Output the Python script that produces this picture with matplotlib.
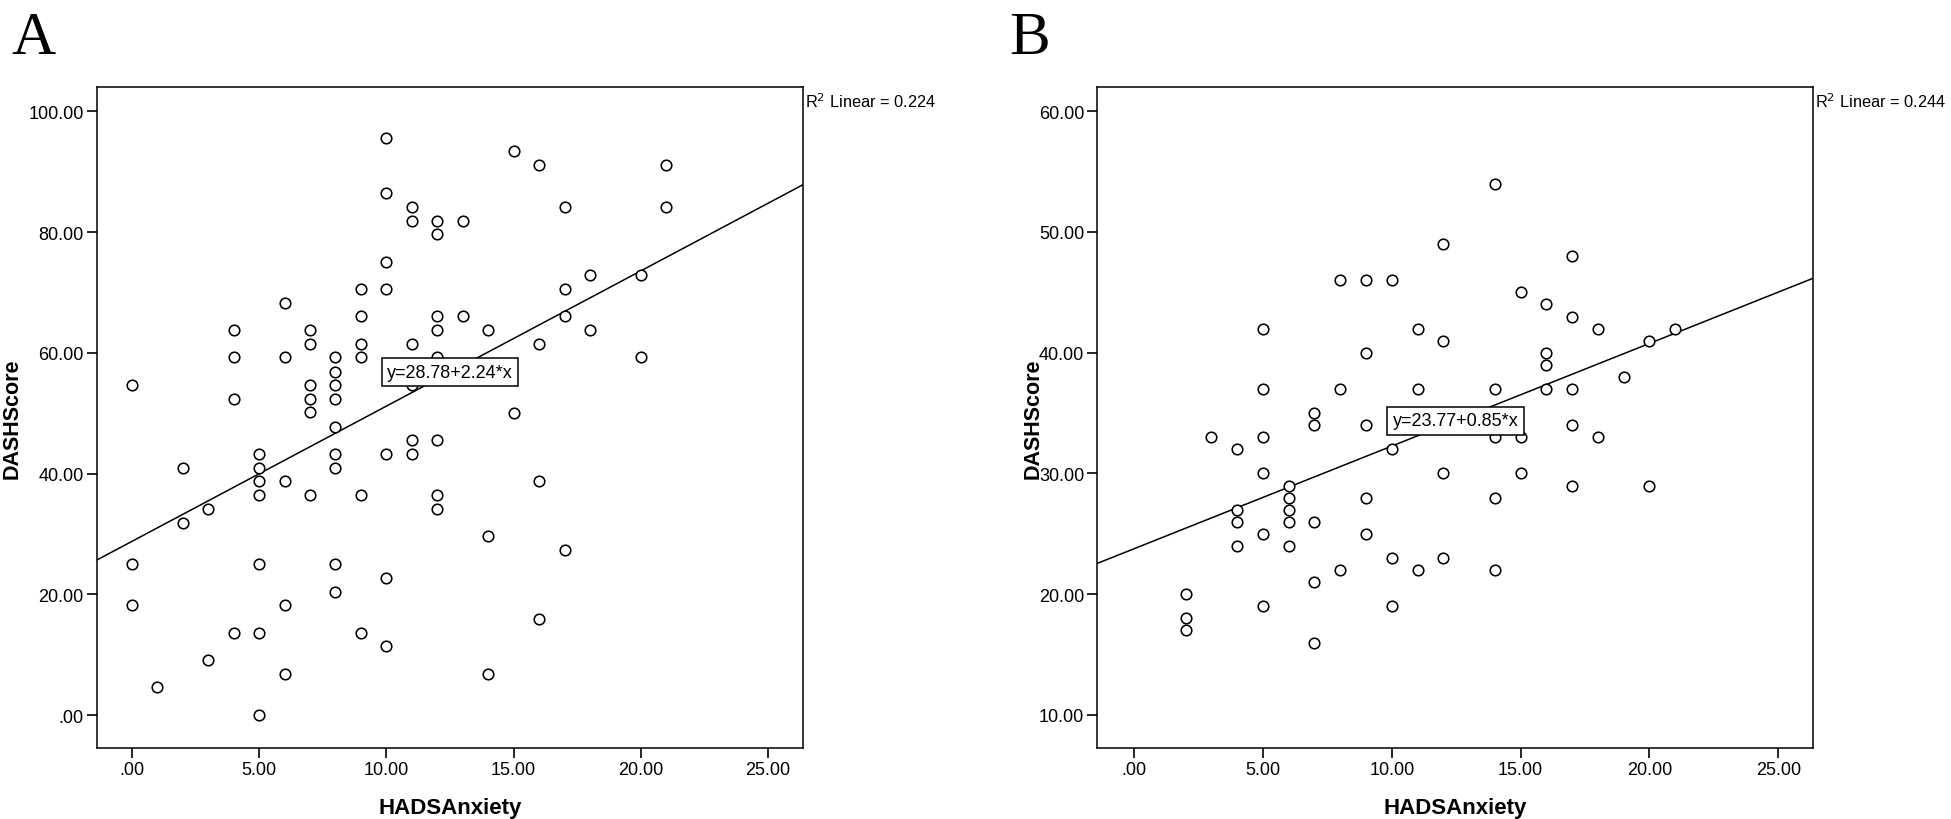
import matplotlib
matplotlib.use("Agg")
import matplotlib.pyplot as plt
from matplotlib.ticker import FixedLocator, FuncFormatter

# ---- Panel A data (HADS Anxiety vs DASH score) ----
a_anxiety = [0, 0, 0, 1, 2, 2, 3, 3,
             4, 4, 4, 4,
             5, 5, 5, 5, 5, 5, 5,
             6, 6, 6, 6, 6,
             7, 7, 7, 7, 7, 7,
             8, 8, 8, 8, 8, 8, 8, 8, 8,
             9, 9, 9, 9, 9, 9,
             10, 10, 10, 10, 10, 10, 10,
             11, 11, 11, 11, 11, 11,
             12, 12, 12, 12, 12, 12, 12, 12,
             13, 13,
             14, 14, 14,
             15, 15,
             16, 16, 16, 16,
             17, 17, 17, 17,
             18, 18,
             20, 20,
             21, 21]
a_dash = [54.7, 25.0, 18.2, 4.6, 41.0, 31.9, 34.2, 9.1,
          63.8, 59.3, 52.4, 13.6,
          43.3, 41.0, 38.8, 36.4, 25.0, 13.6, 0.0,
          68.3, 59.3, 38.8, 18.2, 6.8,
          63.8, 61.5, 54.7, 52.4, 50.2, 36.4,
          59.3, 56.9, 54.7, 52.4, 47.8, 43.3, 41.0, 25.0, 20.4,
          70.6, 66.1, 61.5, 59.3, 36.4, 13.6,
          95.6, 86.5, 75.1, 70.6, 43.3, 22.8, 11.4,
          84.2, 81.9, 61.5, 54.7, 45.5, 43.3,
          81.9, 79.7, 66.1, 63.8, 59.3, 45.5, 36.4, 34.2,
          81.9, 66.1,
          63.8, 29.6, 6.8,
          93.4, 50.1,
          91.1, 61.5, 38.8, 15.9,
          84.2, 70.6, 66.1, 27.3,
          72.9, 63.8,
          72.9, 59.3,
          91.1, 84.2]
a_intercept, a_slope, a_r2 = 28.78, 2.24, 0.224

# ---- Panel B data ----
b_anxiety = [2, 2, 2, 3,
             4, 4, 4, 4,
             5, 5, 5, 5, 5, 5,
             6, 6, 6, 6, 6,
             7, 7, 7, 7, 7,
             8, 8, 8,
             9, 9, 9, 9, 9,
             10, 10, 10, 10,
             11, 11, 11,
             12, 12, 12, 12,
             14, 14, 14, 14, 14,
             15, 15, 15,
             16, 16, 16, 16,
             17, 17, 17, 17, 17,
             18, 18, 19, 20, 20, 21]
b_dash = [20, 18, 17, 33,
          32, 27, 26, 24,
          42, 37, 33, 30, 25, 19,
          29, 28, 27, 26, 24,
          35, 34, 26, 21, 16,
          46, 37, 22,
          46, 40, 34, 28, 25,
          46, 32, 23, 19,
          42, 37, 22,
          49, 41, 30, 23,
          54, 37, 33, 28, 22,
          45, 33, 30,
          44, 40, 39, 37,
          48, 43, 37, 34, 29,
          42, 33, 38, 41, 29, 42]
b_intercept, b_slope, b_r2 = 23.77, 0.85, 0.244

x_ticks = [0, 5, 10, 15, 20, 25]
a_yticks = [0, 20, 40, 60, 80, 100]
b_yticks = [10, 20, 30, 40, 50, 60]

plt.rcParams['font.family'] = ['Liberation Sans', 'DejaVu Sans']


def fmt(v, pos=None):
    s = f"{v:.2f}"
    if s.startswith("0."):
        s = s[1:]
    return s


fig = plt.figure(figsize=(19.51, 8.20), dpi=100)
W, H = 1951, 820


def panel(left_px, right_px, xs, ys, icpt, slope, r2, xlim, ylim, yticks,
          letter, letter_x, ylabel_x):
    top_px, bot_px = 87.5, 749.3
    ax = fig.add_axes([left_px / W, 1 - bot_px / H,
                       (right_px - left_px) / W, (bot_px - top_px) / H])
    ax.set_xlim(*xlim)
    ax.set_ylim(*ylim)
    ax.plot(xs, ys, linestyle='none', marker='o', markersize=7.6,
            markerfacecolor='white', markeredgecolor='black',
            markeredgewidth=1.15, zorder=3)
    lx = list(xlim)
    ax.plot(lx, [icpt + slope * v for v in lx], color='black', lw=1.1,
            zorder=2, clip_on=True)
    xm = (xlim[0] + xlim[1]) / 2
    ax.text(xm, icpt + slope * xm, f"y={icpt:.2f}+{slope:.2f}*x",
            ha='center', va='center', fontsize=13, zorder=5,
            bbox=dict(boxstyle='square,pad=0.3', facecolor='white',
                      edgecolor='black', linewidth=1.1))
    ax.xaxis.set_major_locator(FixedLocator(x_ticks))
    ax.yaxis.set_major_locator(FixedLocator(yticks))
    ax.xaxis.set_major_formatter(FuncFormatter(fmt))
    ax.yaxis.set_major_formatter(FuncFormatter(fmt))
    ax.tick_params(direction='out', length=7.5, width=1.2, labelsize=13,
                   pad=2, color='black')
    for sp in ax.spines.values():
        sp.set_linewidth(1.1)
    ax.set_xlabel('HADSAnxiety', fontsize=16, fontweight='bold')
    ax.set_ylabel('DASHScore', fontsize=15.5, fontweight='bold')
    ax.xaxis.set_label_coords(0.5, -0.073)
    ax.yaxis.set_label_coords(ylabel_x, 0.5)
    ax.text(1.003, 0.993, f"R$^2$ Linear = {r2:.3f}", transform=ax.transAxes,
            ha='left', va='top', fontsize=11.8)
    fig.text(letter_x / W, 1 - 54 / H, letter, family='Liberation Serif',
             fontsize=44, ha='left', va='baseline')
    return ax


panel(96.7, 803.3, a_anxiety, a_dash, a_intercept, a_slope, a_r2,
      (-1.38, 26.38), (-5.47, 104.1), a_yticks, 'A', 11, -0.105)
panel(1097.3, 1813.3, b_anxiety, b_dash, b_intercept, b_slope, b_r2,
      (-1.43, 26.36), (7.24, 62.05), b_yticks, 'B', 1009, -0.075)

fig.savefig('out.png', dpi=100, facecolor='white')
